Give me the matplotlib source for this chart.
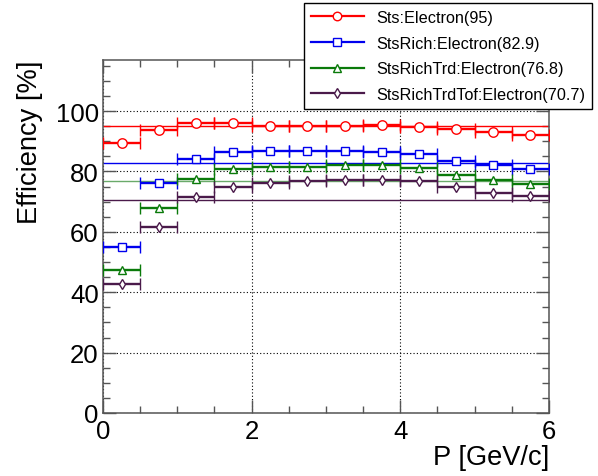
import numpy as np
import matplotlib
matplotlib.use('Agg')
import matplotlib.pyplot as plt
from matplotlib.lines import Line2D
from matplotlib.ticker import MultipleLocator

plt.rcParams['font.family'] = ['Liberation Sans', 'DejaVu Sans']

# momentum bins, 0.5 GeV/c wide
p_centers = np.arange(0.25, 6.0, 0.5)
p_halfwidth = 0.25

sts = [89.3, 93.8, 96.0, 96.0, 95.0, 95.0, 95.0, 95.4, 94.6, 94.0, 93.0, 92.1]
sts_rich = [55.1, 76.3, 84.0, 86.5, 86.8, 86.8, 86.8, 86.4, 85.7, 83.5, 82.0, 80.9]
sts_rich_trd = [47.5, 67.9, 77.6, 80.9, 81.6, 81.6, 82.0, 82.0, 81.1, 78.9, 77.2, 75.9]
sts_rich_trd_tof = [42.8, 61.5, 71.4, 74.7, 76.2, 76.7, 77.2, 77.2, 76.7, 74.8, 73.0, 71.7]

names = ['Sts', 'StsRich', 'StsRichTrd', 'StsRichTrdTof']
means = [95, 82.9, 76.8, 70.7]
series = [sts, sts_rich, sts_rich_trd, sts_rich_trd_tof]

colors = ['#ff0000', '#0000ee', '#0a7a0a', '#4a1a4a']
mean_colors = ['#ff0000', '#0000ee', '#6aaa6a', '#4a1a4a']
markers = ['o', 's', '^', 'd']
msizes = [6.8, 6.2, 6.4, 5.6]

fig = plt.figure(figsize=(5.98, 4.77), dpi=100)
ax = fig.add_axes([0.1722, 0.1321, 0.7458, 0.7406])

ax.set_xlim(0, 6)
ax.set_ylim(0, 117)

ax.grid(True, which='major', color='black', linestyle=(0, (1, 2)), linewidth=0.8)
ax.set_axisbelow(True)

handles = []
for vals, name, mean, c, mc, m, ms in zip(series, names, means, colors, mean_colors, markers, msizes):
    ax.axhline(mean, color=mc, lw=1.0, zorder=2)
    ax.errorbar(p_centers, vals, xerr=p_halfwidth, fmt=m, color=c, mfc='white', mec=c,
                ms=ms, mew=1.0, elinewidth=1.7, capsize=4.2, capthick=1.5, zorder=3)
    handles.append(Line2D([], [], color=c, lw=1.6, marker=m, mfc='white', mec=c, ms=ms * 0.9, mew=1.0))

labels = ['%s:Electron(%g)' % (n, mu) for n, mu in zip(names, means)]

ax.xaxis.set_major_locator(MultipleLocator(2))
ax.xaxis.set_minor_locator(MultipleLocator(0.5))
ax.yaxis.set_major_locator(MultipleLocator(20))
ax.yaxis.set_minor_locator(MultipleLocator(5))
ax.tick_params(which='both', direction='in', top=True, right=True, color='#555555', width=1.0)
ax.tick_params(which='major', length=9.5, labelsize=18.5, pad=3)
ax.tick_params(which='minor', length=5)
ax.tick_params(axis='x', which='major', pad=4)
for s in ax.spines.values():
    s.set_color('#555555')
    s.set_linewidth(1.1)

ax.set_xlabel('P [GeV/c]', fontsize=19.6, loc='right')
ax.xaxis.set_label_coords(1.0, -0.088)
ax.set_ylabel('Efficiency [%]', fontsize=19.6, loc='top')
ax.yaxis.set_label_coords(-0.135, 1.0)

leg = fig.legend(handles, labels, loc='upper left', bbox_to_anchor=(304 / 598, 1 - 4 / 477),
                 fontsize=11.7, frameon=True, fancybox=False, borderpad=0.42, labelspacing=0.66,
                 handlelength=3.27, handletextpad=0.74, borderaxespad=0)
leg.get_frame().set_edgecolor('black')
leg.get_frame().set_linewidth(1.0)
leg.get_frame().set_alpha(1)

fig.savefig('out.png', dpi=100)
